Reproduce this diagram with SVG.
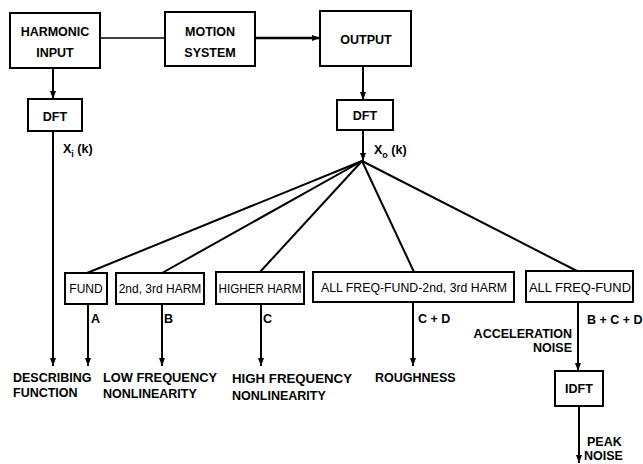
<svg xmlns="http://www.w3.org/2000/svg" width="643" height="464" viewBox="0 0 643 464">
<style>
.box{fill:#fff;stroke:#000;stroke-width:2}
.tb{font-family:"Liberation Sans",Arial,sans-serif;font-weight:bold;font-size:12.5px;fill:#000;text-anchor:middle}
.tn{font-family:"Liberation Sans",Arial,sans-serif;font-size:12px;fill:#000;text-anchor:middle}
.lb{font-family:"Liberation Sans",Arial,sans-serif;font-weight:bold;font-size:12.5px;fill:#000}
.ln{fill:none;stroke:#000;stroke-width:2}
</style>
<defs>
<marker id="ah" markerUnits="userSpaceOnUse" markerWidth="9" markerHeight="8" refX="8" refY="3" orient="auto">
<path d="M0,0 L8,3 L0,6 Z" fill="#000"/>
</marker>
</defs>
<rect width="643" height="464" fill="#fff"/>
<g id="connectors">
<line class="ln" x1="100" y1="38" x2="165" y2="38" style="stroke-width:1.5"/>
<line class="ln" x1="255" y1="38" x2="320" y2="38" style="stroke-width:2.5" marker-end="url(#ah)"/>
<line class="ln" x1="53" y1="68" x2="53" y2="99" marker-end="url(#ah)"/>
<line class="ln" x1="363" y1="66" x2="363" y2="100" marker-end="url(#ah)"/>
<line class="ln" x1="363" y1="130" x2="363" y2="161" marker-end="url(#ah)"/>
<line class="ln" x1="53" y1="131" x2="53" y2="366" marker-end="url(#ah)"/>
<line class="ln" x1="362" y1="161" x2="87" y2="273"/>
<line class="ln" x1="362" y1="161" x2="162" y2="273"/>
<line class="ln" x1="362" y1="161" x2="260" y2="272"/>
<line class="ln" x1="362" y1="161" x2="414" y2="272"/>
<line class="ln" x1="362" y1="161" x2="577" y2="271"/>
<line class="ln" x1="88" y1="304" x2="88" y2="366" marker-end="url(#ah)"/>
<line class="ln" x1="162" y1="304" x2="162" y2="366" marker-end="url(#ah)"/>
<line class="ln" x1="261" y1="304" x2="261" y2="366" marker-end="url(#ah)"/>
<line class="ln" x1="413" y1="302" x2="413" y2="366" marker-end="url(#ah)"/>
<line class="ln" x1="578" y1="302" x2="578" y2="371" marker-end="url(#ah)"/>
<line class="ln" x1="579" y1="406" x2="579" y2="463" marker-end="url(#ah)"/>
</g>
<g id="harmonic-input"><rect class="box" x="10" y="13" width="90" height="55"/><text class="tb" x="55" y="36">HARMONIC</text><text class="tb" x="55" y="57">INPUT</text></g>
<g id="motion-system"><rect class="box" x="165" y="12" width="90" height="54"/><text class="tb" x="210" y="36">MOTION</text><text class="tb" x="210" y="57">SYSTEM</text></g>
<g id="output"><rect class="box" x="320" y="11" width="91" height="55"/><text class="tb" x="366" y="44">OUTPUT</text></g>
<g id="dft-in"><rect class="box" x="28" y="99" width="54" height="32"/><text class="tb" x="55" y="121">DFT</text></g>
<g id="dft-out"><rect class="box" x="337" y="100" width="56" height="30"/><text class="tb" x="365" y="120">DFT</text></g>
<g id="xi"><text class="lb" x="63" y="153">X<tspan font-size="9" dy="4">i</tspan><tspan dy="-4"> (k)</tspan></text></g>
<g id="xo"><text class="lb" x="374" y="154">X<tspan font-size="9" dy="4">o</tspan><tspan dy="-4"> (k)</tspan></text></g>
<g id="fund"><rect class="box" x="65" y="273" width="42" height="31"/><text class="tn" x="86" y="293">FUND</text></g>
<g id="harm23"><rect class="box" x="116" y="273" width="88" height="31"/><text class="tn" x="160" y="293">2nd, 3rd HARM</text></g>
<g id="higher"><rect class="box" x="216" y="272" width="88" height="32"/><text class="tn" x="260" y="293" textLength="83" lengthAdjust="spacingAndGlyphs">HIGHER HARM</text></g>
<g id="allfreq23"><rect class="box" x="313" y="272" width="201" height="30"/><text class="tn" x="414" y="292" textLength="186" lengthAdjust="spacingAndGlyphs">ALL FREQ-FUND-2nd, 3rd HARM</text></g>
<g id="allfreq"><rect class="box" x="526" y="271" width="107" height="31"/><text class="tn" x="580" y="292" textLength="102" lengthAdjust="spacingAndGlyphs">ALL FREQ-FUND</text></g>
<g id="idft"><rect class="box" x="555" y="371" width="48" height="35"/><text class="tb" x="579" y="393">IDFT</text></g>
<g id="labels">
<text class="lb" x="91" y="323">A</text>
<text class="lb" x="164" y="323">B</text>
<text class="lb" x="263" y="323">C</text>
<text class="lb" x="418" y="323">C + D</text>
<text class="lb" x="587" y="324">B + C + D</text>
<text class="lb" x="572" y="338" text-anchor="end">ACCELERATION</text>
<text class="lb" x="572" y="352" text-anchor="end">NOISE</text>
<text class="lb" x="13" y="382">DESCRIBING</text>
<text class="lb" x="13" y="397">FUNCTION</text>
<text class="lb" x="103" y="382" textLength="114" lengthAdjust="spacingAndGlyphs">LOW FREQUENCY</text>
<text class="lb" x="103" y="398">NONLINEARITY</text>
<text class="lb" x="232" y="383" textLength="120" lengthAdjust="spacingAndGlyphs">HIGH FREQUENCY</text>
<text class="lb" x="232" y="400">NONLINEARITY</text>
<text class="lb" x="375" y="382">ROUGHNESS</text>
<text class="lb" x="587" y="446">PEAK</text>
<text class="lb" x="584" y="460">NOISE</text>
</g>
</svg>
